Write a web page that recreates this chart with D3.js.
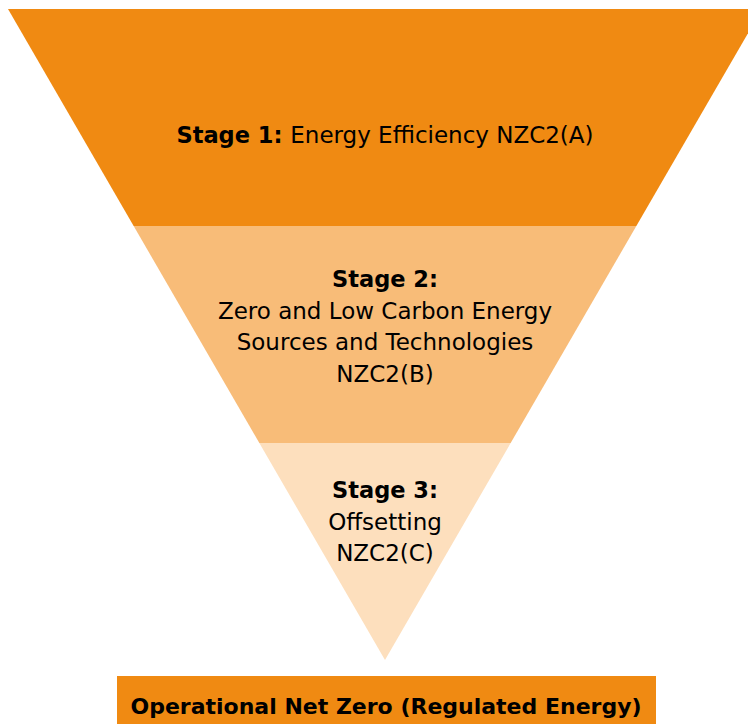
<!DOCTYPE html>
<html>
<head>
<meta charset="utf-8">
<script src="https://cdn.jsdelivr.net/npm/d3@7"></script>
<style>
  body { margin: 0; background: #fff; }
  svg { display: block; font-family: "DejaVu Sans", sans-serif; }
</style>
</head>
<body>
<script>
(function(d3) {
  "use strict";

  /***** Données *****/
  const stages = ["Stage 1", "Stage 2", "Stage 3"];
  const stageShares = [1, 1, 1];
  const stageTitles = ["Stage 1:", "Stage 2:", "Stage 3:"];
  const stageLines = [
    ["Energy Efficiency NZC2(A)"],
    ["Zero and Low Carbon Energy", "Sources and Technologies", "NZC2(B)"],
    ["Offsetting", "NZC2(C)"]
  ];
  const stageColors = ["#f08a12", "#f8bc78", "#fddfbd"];
  const outcome = "Operational Net Zero (Regulated Energy)";

  /***** Configuration *****/
  const width = 748;
  const height = 724;
  const cx = 385;
  const yTop = 9;
  const yApex = 660;
  const halfTop = 377;

  const svg = d3.select("body")
    .append("svg")
    .attr("width", width)
    .attr("height", height);

  // part cumulée -> position verticale
  const cum = [0].concat(Array.from(d3.cumsum(stageShares)));
  const total = d3.sum(stageShares);
  const y = d3.scaleLinear().domain([0, total]).range([yTop, yApex]);
  const half = d3.scaleLinear().domain([0, total]).range([halfTop, 0]);

  const data = stages.map((s, i) => ({
    name: s, i: i, v0: cum[i], v1: cum[i + 1],
    title: stageTitles[i], lines: stageLines[i], color: stageColors[i]
  }));

  // Trapèzes
  svg.selectAll("path.stage")
    .data(data)
    .join("path")
    .attr("class", "stage")
    .attr("fill", d => d.color)
    .attr("d", d => {
      const y0 = y(d.v0), y1 = y(d.v1);
      return "M" + (cx - half(d.v0)) + "," + y0 +
        "L" + (cx + half(d.v0)) + "," + y0 +
        "L" + (cx + half(d.v1)) + "," + y1 +
        "L" + (cx - half(d.v1)) + "," + y1 + "Z";
    });

  // Étiquettes
  const fsTitle = 22.5;
  const fsBody = 23;
  const lh = 31.5;

  // stage 1 : une seule ligne
  const t1 = svg.append("text")
    .attr("x", cx)
    .attr("y", 143)
    .attr("text-anchor", "middle")
    .attr("fill", "#000");
  t1.append("tspan").attr("font-weight", "bold").attr("font-size", fsTitle).text(data[0].title + " ");
  t1.append("tspan").attr("font-size", fsBody).text(data[0].lines[0]);

  // stages 2 et 3 : titre puis lignes
  const firstBaseline = [null, 287, 498];
  data.slice(1).forEach(d => {
    const t = svg.append("text")
      .attr("text-anchor", "middle")
      .attr("fill", "#000");
    t.append("tspan")
      .attr("x", cx)
      .attr("y", firstBaseline[d.i])
      .attr("font-weight", "bold")
      .attr("font-size", fsTitle)
      .text(d.title);
    d.lines.forEach((l, k) => {
      t.append("tspan")
        .attr("x", cx)
        .attr("y", firstBaseline[d.i] + lh * (k + 1))
        .attr("font-size", fsBody)
        .text(l);
    });
  });

  // Boîte de résultat
  svg.append("rect")
    .attr("x", 117)
    .attr("y", 676)
    .attr("width", 539)
    .attr("height", height - 676)
    .attr("fill", stageColors[0]);

  svg.append("text")
    .attr("x", 386)
    .attr("y", 714)
    .attr("text-anchor", "middle")
    .attr("font-size", 22)
    .attr("font-weight", "bold")
    .attr("fill", "#000")
    .text(outcome);
})(d3);
</script>
</body>
</html>
